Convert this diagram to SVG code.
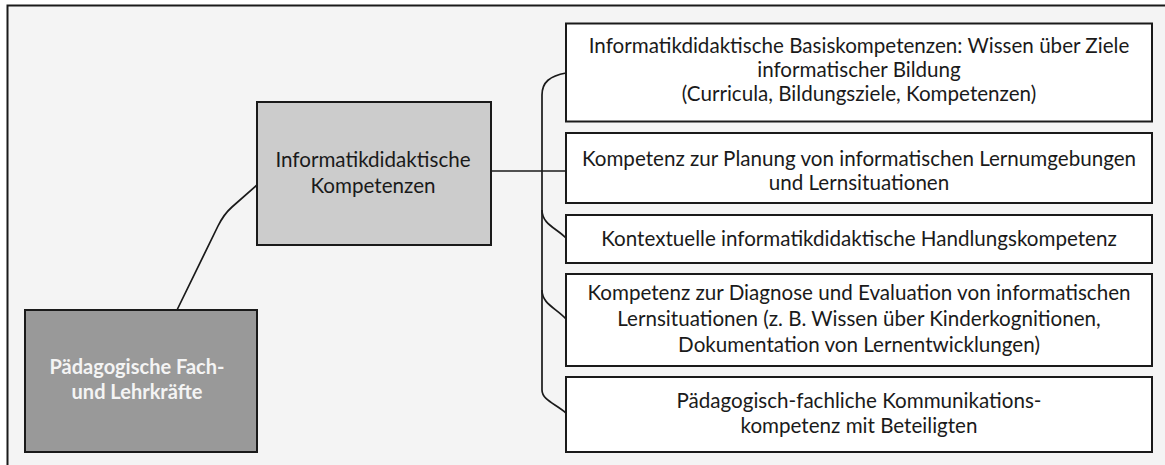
<svg xmlns="http://www.w3.org/2000/svg" width="1165" height="465" viewBox="0 0 1165 465">
  <style>
    .frame { fill: #f4f4f4; stroke: #1a1a1a; stroke-width: 2; }
    .box { fill: #ffffff; stroke: #1a1a1a; stroke-width: 2; }
    .mid { fill: #cccccc; stroke: #1a1a1a; stroke-width: 2; }
    .root { fill: #999999; stroke: #1a1a1a; stroke-width: 2; }
    .wire { fill: none; stroke: #1a1a1a; stroke-width: 1.7; }
    text { font-family: Lato, "Liberation Sans", sans-serif; font-size: 20.6px; fill: #1a1a1a; text-anchor: middle; }
    .bold { font-weight: bold; fill: #f4f4f4; font-size: 20px; }
  </style>

  <!-- background panel, open to the right and bottom -->
  <rect class="frame" x="7.5" y="5.5" width="1170" height="470"/>

  <g id="connectors">
    <path class="wire" d="M177,310 L218,226 Q224,214 232,207 L257,185"/>
    <path class="wire" d="M491,171 L566,171"/>
    <path class="wire" d="M566,73 C550,76 542,82 542,95 L542,390 C542,400 556,404 566,413"/>
    <path class="wire" d="M542,210 C542,224 556,228 566,238"/>
    <path class="wire" d="M542,290 C542,304 556,308 566,319"/>
  </g>

  <g id="node-root">
    <rect class="root" x="25" y="310" width="232" height="142"/>
    <text class="bold" x="137" y="374">Pädagogische Fach-</text>
    <text class="bold" x="137" y="399">und Lehrkräfte</text>
  </g>

  <g id="node-didaktik">
    <rect class="mid" x="257" y="102" width="234" height="143"/>
    <text x="373" y="167">Informatikdidaktische</text>
    <text x="373" y="193">Kompetenzen</text>
  </g>

  <g id="node-basis">
    <rect class="box" x="566" y="23.5" width="586" height="98"/>
    <text x="859" y="53">Informatikdidaktische Basiskompetenzen: Wissen über Ziele</text>
    <text x="859" y="77">informatischer Bildung</text>
    <text x="859" y="101">(Curricula, Bildungsziele, Kompetenzen)</text>
  </g>

  <g id="node-planung">
    <rect class="box" x="566" y="133" width="586" height="70"/>
    <text x="859" y="166">Kompetenz zur Planung von informatischen Lernumgebungen</text>
    <text x="859" y="190">und Lernsituationen</text>
  </g>

  <g id="node-handlung">
    <rect class="box" x="566" y="215" width="586" height="48"/>
    <text x="859" y="246">Kontextuelle informatikdidaktische Handlungskompetenz</text>
  </g>

  <g id="node-diagnose">
    <rect class="box" x="566" y="274" width="586" height="92"/>
    <text x="859" y="300">Kompetenz zur Diagnose und Evaluation von informatischen</text>
    <text x="859" y="326">Lernsituationen (z. B. Wissen über Kinderkognitionen,</text>
    <text x="859" y="352">Dokumentation von Lernentwicklungen)</text>
  </g>

  <g id="node-kommunikation">
    <rect class="box" x="566" y="377" width="586" height="75"/>
    <text x="859" y="408">Pädagogisch-fachliche Kommunikations-</text>
    <text x="859" y="433">kompetenz mit Beteiligten</text>
  </g>
</svg>
